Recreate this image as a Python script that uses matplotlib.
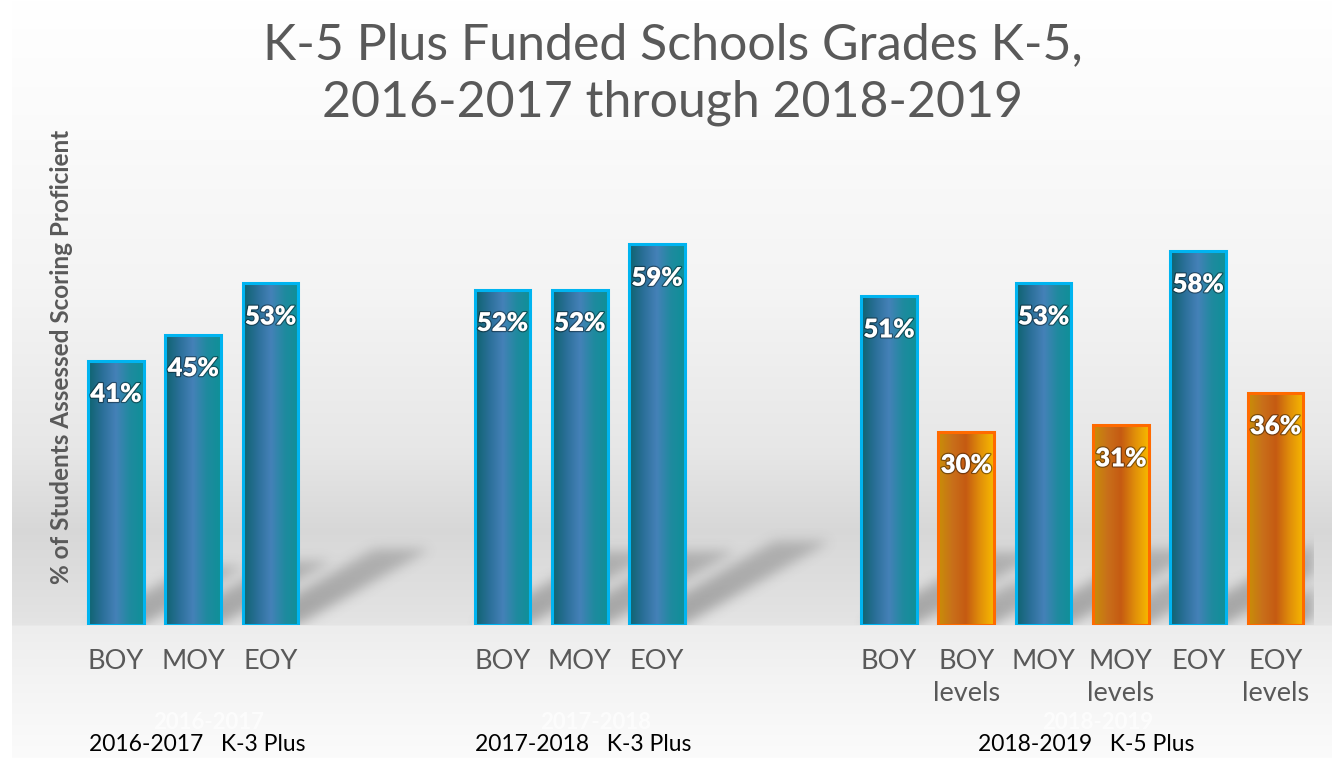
import numpy as np
import matplotlib
matplotlib.use("Agg")
import matplotlib.pyplot as plt
import matplotlib.patheffects as pe
from matplotlib.colors import LinearSegmentedColormap
from matplotlib.path import Path

# data
group_titles = ["2016-2017   K-3 Plus", "2017-2018   K-3 Plus", "2018-2019   K-5 Plus"]
group_years = ["2016-2017", "2017-2018", "2018-2019"]
labels_1617 = ["BOY", "MOY", "EOY"]
values_1617 = [41, 45, 53]
labels_1718 = ["BOY", "MOY", "EOY"]
values_1718 = [52, 52, 59]
labels_1819 = ["BOY", "BOY\nlevels", "MOY", "MOY\nlevels", "EOY", "EOY\nlevels"]
values_1819 = [51, 30, 53, 31, 58, 36]

groups = [(labels_1617, values_1617), (labels_1718, values_1718), (labels_1819, values_1819)]

plt.rcParams["font.family"] = ["Lato", "DejaVu Sans"]

W, H = 1332, 758
fig = plt.figure(figsize=(W / 100, H / 100), dpi=100)

# grey gradient backdrop (darker "wall" above the baseline, lighter "floor" below)
bg = fig.add_axes([0, 0, 1, 1], zorder=-5)
rows = np.arange(H)
shade = np.interp(rows, [0, 110, 300, 450, 530, 610, 624, 626, 690, 758],
                  [1.0, 0.985, 0.955, 0.905, 0.845, 0.885, 0.895, 0.93, 0.96, 0.985])
img = np.repeat(shade[:, None], W, axis=1)
img[:, :12] = 1.0
bg.imshow(np.dstack([img, img, img]), aspect="auto", extent=[0, 1, 0, 1], origin="upper")
bg.axis("off")

ax = fig.add_axes([77.35 / W, 133 / H, 16 * 77.3 / W, 451.5 / H])
ax.set_facecolor("none")
XLIM, YLIM = (-0.5, 15.5), (0, 70)

teal = LinearSegmentedColormap.from_list("teal", ["#0f6470", "#2a6f98", "#4581b8", "#1f8a9f", "#0f9098"])
amber = LinearSegmentedColormap.from_list("amber", ["#c88e08", "#c9701a", "#c55a12", "#e08e0a", "#f7b800"])
grad = np.linspace(0, 1, 64)[None, :]

width = 0.72
positions, values, labels, group_centers = [], [], [], []
start = 0
for labs, vals in groups:
    pos = [start + i for i in range(len(vals))]
    positions += pos
    values += vals
    labels += labs
    group_centers.append(np.mean(pos))
    start = pos[-1] + 3

# blurred diagonal shadows, rasterised on a grid in data coordinates
nx, ny = 1236, 452
gx, gy = np.meshgrid(np.linspace(*XLIM, nx), np.linspace(*YLIM, ny))
pts = np.column_stack([gx.ravel(), gy.ravel()])
shadow = np.zeros(gx.shape)
for x, v in zip(positions, values):
    dx, dy = 0.032 * v, 0.22 * v
    poly = Path([(x - width / 2, 0), (x + width / 2, 0),
                 (x + width / 2 + dx, dy), (x - width / 2 + dx, dy)])
    inside = poly.contains_points(pts).reshape(gx.shape)
    fade = np.clip(1 - 0.3 * gy / dy, 0, 1)
    shadow = np.maximum(shadow, inside * fade)
k = np.exp(-0.5 * (np.arange(-18, 19) / 6.0) ** 2)
k /= k.sum()
shadow = np.apply_along_axis(lambda r: np.convolve(r, k, mode="same"), 1, shadow)
shadow = np.apply_along_axis(lambda c: np.convolve(c, k, mode="same"), 0, shadow)
rgba = np.zeros(gx.shape + (4,))
rgba[..., :3] = 0.3
rgba[..., 3] = 0.42 * shadow
ax.imshow(rgba, extent=[*XLIM, *YLIM], origin="lower", aspect="auto", zorder=1)

for x, v, lab in zip(positions, values, labels):
    cmap, edge = (amber, "#ff6a00") if "levels" in lab else (teal, "#00b4f0")
    ax.imshow(grad, cmap=cmap, extent=[x - width / 2, x + width / 2, 0, v],
              aspect="auto", interpolation="bicubic", zorder=3)
    ax.bar(x, v, width, fill=False, edgecolor=edge, linewidth=2.2, zorder=4)
    ax.annotate(f"{v}%", (x, v), xytext=(0, -24), textcoords="offset points",
                ha="center", va="center", color="white", fontsize=18.5, fontweight="heavy",
                zorder=5, path_effects=[pe.withStroke(linewidth=1.8, foreground=(0, 0, 0, 0.4))])

ax.set_xlim(*XLIM)
ax.set_ylim(*YLIM)
ax.set_xticks(positions, labels, fontsize=19.5, color="#595959", linespacing=1.33)
ax.tick_params(axis="x", length=0, pad=17.5)
ax.set_yticks([])
for s in ax.spines.values():
    s.set_visible(False)

for cx, title, yr in zip(group_centers, group_titles, group_years):
    ax.text(cx + 0.2, -0.215, yr, transform=ax.get_xaxis_transform(), ha="center",
            va="center", fontsize=16, fontweight="bold", color="white", alpha=0.7, zorder=2)
    ax.text(cx + 0.05, -0.265, title, transform=ax.get_xaxis_transform(), ha="center",
            va="center", fontsize=16.5, color="black")

fig.text(62 / W, 1 - 357 / H, "% of Students Assessed Scoring Proficient", rotation=90,
         ha="center", va="center", fontsize=17.5, fontweight="bold", color="#595959")

fig.text(673 / W, 1 - 45 / H, "K-5 Plus Funded Schools Grades K-5,", ha="center", va="center",
         fontsize=36, color="#595959")
fig.text(673 / W, 1 - 103 / H, "2016-2017 through 2018-2019", ha="center", va="center",
         fontsize=36, color="#595959")

fig.savefig("out.png", dpi=100)
